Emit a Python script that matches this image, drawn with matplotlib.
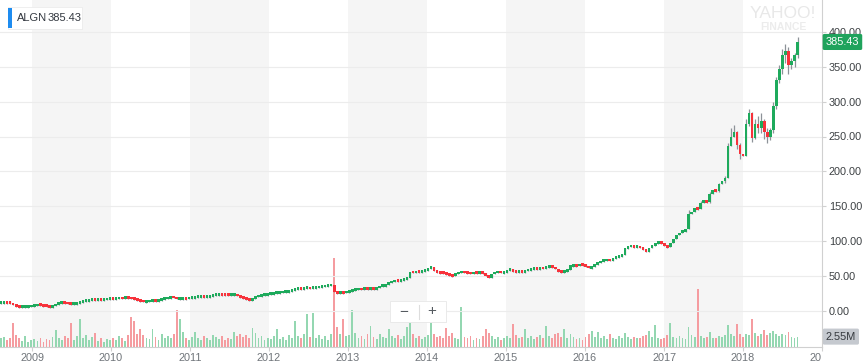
import pandas as pd
import matplotlib
matplotlib.use("Agg")
import matplotlib.pyplot as plt
import matplotlib.transforms as mtransforms
from matplotlib.patches import FancyBboxPatch, Rectangle

plt.rcParams['font.family'] = ['Liberation Sans', 'DejaVu Sans']

# biweekly closes (USD)
closes_2008 = [12.0, 12.3, 11.8, 11.5, 8.8, 6.5, 5.9, 6.2, 6.8, 7.0, 7.6]
closes_2009 = [8.4, 8.9, 8.6, 8.2, 7.2, 6.6, 7.4, 9.8, 11.6, 12.0, 11.8, 11.0, 10.2,
               10.4, 11.2, 13.4, 14.6, 15.2, 15.8, 16.4, 15.6, 16.8, 16.2, 16.9, 17.4, 17.8]
closes_2010 = [17.6, 18.4, 18.9, 18.6, 19.2, 19.0, 18.4, 17.0, 16.2, 14.8, 13.6, 14.2, 14.6,
               15.0, 14.7, 15.4, 17.2, 18.0, 19.4, 20.4, 19.8, 17.4, 18.0, 18.4, 18.2, 19.0]
closes_2011 = [19.6, 20.2, 20.8, 21.2, 20.6, 20.9, 21.5, 22.4, 23.8, 24.3, 24.0, 23.4, 22.9,
               23.4, 23.8, 22.0, 19.5, 18.2, 17.4, 16.0, 17.2, 20.4, 22.4, 23.0, 23.8, 24.2]
closes_2012 = [25.0, 25.8, 26.4, 26.9, 27.6, 28.2, 28.8, 29.4, 31.8, 32.4, 32.0, 33.0, 33.4,
               32.8, 33.6, 34.0, 34.6, 35.2, 36.2, 37.0, 37.6, 27.4, 26.6, 27.2, 26.8, 27.6]
closes_2013 = [28.4, 30.6, 31.2, 31.8, 31.4, 32.0, 31.6, 32.4, 32.2, 33.0, 35.6, 36.4, 37.2,
               40.6, 42.4, 43.6, 43.0, 44.8, 46.2, 46.8, 56.4, 55.2, 56.8, 55.4, 57.2, 58.0]
closes_2014 = [60.4, 63.2, 58.0, 56.0, 55.2, 54.0, 53.4, 52.2, 50.2, 53.6, 55.4, 56.2, 55.8,
               55.0, 53.8, 55.2, 54.4, 55.6, 54.2, 51.0, 46.8, 53.2, 55.6, 56.4, 55.2, 56.0]
closes_2015 = [57.6, 60.8, 56.4, 55.8, 57.0, 56.2, 57.8, 59.6, 60.4, 61.2, 60.6, 62.0, 61.4,
               63.2, 64.4, 63.0, 60.2, 56.4, 55.8, 57.0, 59.4, 65.2, 66.0, 65.4, 66.6, 65.8]
closes_2016 = [64.0, 61.8, 63.4, 66.8, 69.4, 71.2, 72.6, 73.4, 72.8, 75.6, 77.4, 78.8, 80.6,
               90.2, 92.4, 93.6, 92.2, 93.0, 90.4, 88.2, 85.0, 90.6, 94.2, 97.0, 99.2, 96.2]
closes_2017 = [94.4, 91.0, 97.8, 103.6, 108.2, 112.4, 114.6, 116.8, 138.6, 142.4, 148.0, 146.2, 155.2,
               157.6, 156.4, 168.2, 173.4, 172.0, 182.6, 186.4, 191.0, 236.4, 248.8, 256.2, 238.4, 224.6]
closes_2018 = [222.4, 268.6, 284.2, 248.0, 268.4, 262.6, 272.0, 256.8, 249.2, 258.6, 294.0, 331.2,
               346.4, 366.2, 372.4, 352.8, 358.2, 366.4, 385.43]

# biweekly volume, millions
volumes_2008 = [2.2, 2.6, 1.8, 2.4, 6.1, 3.0, 2.2, 1.6, 2.8, 1.4, 1.9]
volumes_2009 = [2.0, 1.5, 2.4, 1.2, 2.1, 1.7, 2.6, 4.3, 2.2, 1.8, 2.9, 2.3, 6.1,
                1.9, 2.7, 7.1, 2.4, 3.0, 1.8, 2.5, 3.6, 1.6, 2.3, 1.4, 2.1, 1.7]
volumes_2010 = [2.4, 1.9, 2.8, 2.2, 1.6, 3.1, 7.6, 6.6, 3.4, 4.6, 3.0, 2.4, 2.0,
                4.6, 2.6, 1.8, 3.2, 2.4, 2.9, 2.2, 3.4, 9.4, 7.1, 3.8, 2.3, 1.9]
volumes_2011 = [2.6, 3.8, 2.2, 1.7, 2.8, 2.3, 1.9, 3.0, 2.5, 2.1, 2.7, 1.8, 2.4,
                2.0, 3.8, 2.9, 3.3, 2.6, 3.1, 2.4, 4.8, 3.5, 2.2, 2.8, 1.9, 2.3]
volumes_2012 = [2.1, 2.7, 4.6, 2.0, 2.5, 1.8, 3.0, 2.2, 6.6, 2.8, 2.3, 3.2, 8.4,
                2.6, 8.7, 2.4, 3.0, 2.1, 2.7, 1.9, 3.2, 22.7, 5.2, 3.4, 7.1, 2.8]
volumes_2013 = [3.0, 9.4, 3.6, 2.4, 2.9, 2.1, 3.3, 5.4, 2.5, 2.0, 3.4, 2.6, 2.2,
                4.6, 2.8, 2.3, 3.0, 2.1, 2.7, 5.1, 6.1, 3.2, 2.4, 2.8, 2.0, 2.5]
volumes_2014 = [3.1, 6.1, 3.4, 2.5, 2.9, 2.2, 4.8, 2.7, 3.5, 2.4, 2.0, 10.2, 2.6,
                2.2, 2.9, 1.9, 2.4, 2.1, 2.8, 4.6, 3.6, 2.7, 2.1, 2.5, 1.8, 2.3]
volumes_2015 = [2.8, 2.4, 5.9, 3.0, 2.2, 2.6, 4.6, 2.3, 2.9, 2.0, 2.5, 3.1, 2.4,
                5.4, 2.7, 2.2, 3.2, 3.6, 2.5, 4.6, 2.3, 3.4, 2.6, 2.0, 2.4, 1.9]
volumes_2016 = [2.6, 3.2, 4.1, 2.5, 3.8, 2.2, 2.7, 2.0, 3.3, 2.4, 2.1, 2.8, 2.3,
                3.6, 2.5, 2.0, 2.6, 2.2, 2.4, 2.9, 3.0, 4.1, 2.6, 5.6, 2.3, 2.1]
volumes_2017 = [2.4, 3.0, 6.1, 2.6, 2.2, 2.8, 2.4, 2.1, 5.1, 3.0, 2.5, 14.8, 2.9,
                2.3, 2.6, 3.8, 2.4, 2.2, 2.8, 2.5, 3.1, 5.6, 3.4, 2.8, 5.9, 3.2]
volumes_2018 = [2.6, 3.4, 3.0, 7.1, 3.6, 2.8, 3.2, 4.3, 3.0, 3.6, 4.0, 3.4, 2.9,
                3.3, 3.1, 3.8, 2.6, 2.4, 2.55]

# visible wicks: (candle index, high, low)
wicks = [(227, 145, 136), (231, 158, 147), (234, 170, 155), (237, 184, 170), (239, 194, 183),
         (240, 240, 205), (241, 262, 243), (242, 266, 250), (243, 258, 232), (244, 240, 218),
         (246, 275, 222), (247, 290, 265), (248, 285, 242), (249, 275, 246), (250, 280, 255),
         (251, 284, 255), (252, 275, 246), (253, 262, 240), (254, 262, 245), (255, 300, 255),
         (256, 335, 290), (257, 352, 326), (258, 375, 340), (259, 382, 355), (260, 378, 340),
         (261, 362, 346), (262, 370, 350), (263, 392, 362)]

years = list(range(2009, 2020))
price_ticks = list(range(0, 401, 50))
ticker = "ALGN"
last_price = 385.43
last_volume = "2.55M"

closes = (closes_2008 + closes_2009 + closes_2010 + closes_2011 + closes_2012 + closes_2013
          + closes_2014 + closes_2015 + closes_2016 + closes_2017 + closes_2018)
volumes = (volumes_2008 + volumes_2009 + volumes_2010 + volumes_2011 + volumes_2012 + volumes_2013
           + volumes_2014 + volumes_2015 + volumes_2016 + volumes_2017 + volumes_2018)
dates = pd.date_range("2008-08-11", periods=len(closes), freq="14D")
opens = [closes[0]] + closes[:-1]

GREEN = "#1eaa5c"
RED = "#f7323b"
up = [c >= o for o, c in zip(opens, closes)]
colors = [GREEN if u else RED for u in up]

min_h = 4.0
body_lo, body_hi = [], []
for o, c in zip(opens, closes):
    lo, hi = min(o, c), max(o, c)
    if hi - lo < min_h:
        mid = (hi + lo) / 2
        lo, hi = mid - min_h / 2, mid + min_h / 2
    body_lo.append(lo)
    body_hi.append(hi)
highs = list(body_hi)
lows = list(body_lo)
for i, h, l in wicks:
    highs[i] = max(h, highs[i])
    lows[i] = min(l, lows[i])

fig = plt.figure(figsize=(8.64, 3.64), dpi=100)
ax = fig.add_axes([0, 17 / 364, 822 / 864, 347 / 364])
axv = ax.twinx()
ax.set_zorder(axv.get_zorder() + 1)
ax.patch.set_visible(False)

x0 = pd.Timestamp("2008-08-06")
x1 = pd.Timestamp("2019-01-01")

for y in [2009, 2011, 2013, 2015, 2017]:
    axv.axvspan(pd.Timestamp(y, 1, 1), pd.Timestamp(y + 1, 1, 1), color="#f5f5f5", lw=0, zorder=0)

vol_colors = ["#94d7b1" if u else "#f59ca0" for u in up]
axv.bar(dates, volumes, width=8.5, color=vol_colors, lw=0, zorder=1)
axv.set_ylim(0, 347 * 0.255)
axv.set_yticks([])
for s in axv.spines.values():
    s.set_visible(False)

ax.vlines(dates, lows, highs, color="#8d9298", lw=0.9, zorder=2)
ax.bar(dates, [h - l for l, h in zip(body_lo, body_hi)], bottom=body_lo, width=12,
       color=colors, lw=0, zorder=3)

ax.set_xlim(x0, x1)
ax.set_ylim(-(347 - 311) / 0.698, 311 / 0.698)

ax.yaxis.tick_right()
ax.set_yticks(price_ticks)
ax.set_yticklabels([f"{v:.2f}" for v in price_ticks])
ax.tick_params(axis="y", length=3, color="#d0d0d0", labelsize=7.8, labelcolor="#3c4043", pad=2)
ax.grid(axis="y", color="#ececec", lw=0.8)
ax.set_axisbelow(True)

ax.set_xticks([pd.Timestamp(y, 1, 1) for y in years])
ax.set_xticklabels([str(y) for y in years[:-1]] + ["20"])
ax.get_xticklabels()[-1].set_horizontalalignment("right")
ax.tick_params(axis="x", length=3, color="#d0d0d0", labelsize=7.8, labelcolor="#6f7479", pad=1.5)

for side in ["top", "left"]:
    ax.spines[side].set_visible(False)
for side in ["right", "bottom"]:
    ax.spines[side].set_color("#d0d0d0")
    ax.spines[side].set_linewidth(0.8)

# price and volume tags on the right axis
trans_p = mtransforms.blended_transform_factory(ax.transAxes, ax.transData)
ax.text(1.0045, last_price, f"{last_price:.2f}", transform=trans_p, ha="left", va="center",
        color="white", fontsize=7.8, clip_on=False, zorder=10,
        bbox=dict(boxstyle="round,pad=0.28,rounding_size=0.15", fc="#1fa35c", ec="none"))
trans_v = mtransforms.blended_transform_factory(axv.transAxes, axv.transData)
axv.text(1.0045, 2.65, last_volume, transform=trans_v, ha="left", va="center",
         color="#33373c", fontsize=7.8, clip_on=False, zorder=10,
         bbox=dict(boxstyle="round,pad=0.28,rounding_size=0.15", fc="#c5c9cf", ec="none"))


def fx(px):
    return px / 864


def fy(py):
    return 1 - py / 364


# ticker box top left
fig.patches.append(FancyBboxPatch((fx(9), fy(30)), fx(74), 22 / 364, boxstyle="square,pad=0",
                                  transform=fig.transFigure, fc="#000000", alpha=0.05, ec="none"))
fig.patches.append(FancyBboxPatch((fx(8), fy(29)), fx(74), 22 / 364, boxstyle="square,pad=0",
                                  transform=fig.transFigure, fc="white", ec="#ececec", lw=0.6))
fig.patches.append(Rectangle((fx(8), fy(28)), fx(4), 20 / 364, transform=fig.transFigure,
                             fc="#1e8cf0", ec="none"))
fig.text(fx(17), fy(18), ticker, ha="left", va="center", fontsize=8, color="#333840")
fig.text(fx(48), fy(18), f"{last_price:.2f}", ha="left", va="center", fontsize=8, color="#333840")

# watermark
fig.text(fx(783), fy(14), "YAHOO!", ha="center", va="center", fontsize=12.5, color="#e8e8e8")
fig.text(fx(783), fy(27), "FINANCE", ha="center", va="center", fontsize=7.5,
         fontweight="bold", color="#ececec")

# zoom buttons
fig.patches.append(FancyBboxPatch((fx(391), fy(323)), fx(56), 21 / 364, boxstyle="square,pad=0",
                                  transform=fig.transFigure, fc="#000000", alpha=0.05, ec="none"))
fig.patches.append(FancyBboxPatch((fx(390), fy(322)), fx(56), 21 / 364, boxstyle="square,pad=0",
                                  transform=fig.transFigure, fc="white", ec="#e8e8e8", lw=0.6))
fig.lines.append(plt.Line2D([fx(419), fx(419)], [fy(305), fy(319)], transform=fig.transFigure,
                            color="#dddddd", lw=0.8))
fig.text(fx(404), fy(311.5), "\u2212", ha="center", va="center", fontsize=11, color="#555a60")
fig.text(fx(432), fy(311.5), "+", ha="center", va="center", fontsize=11, color="#555a60")

fig.savefig("out.png", dpi=100)
